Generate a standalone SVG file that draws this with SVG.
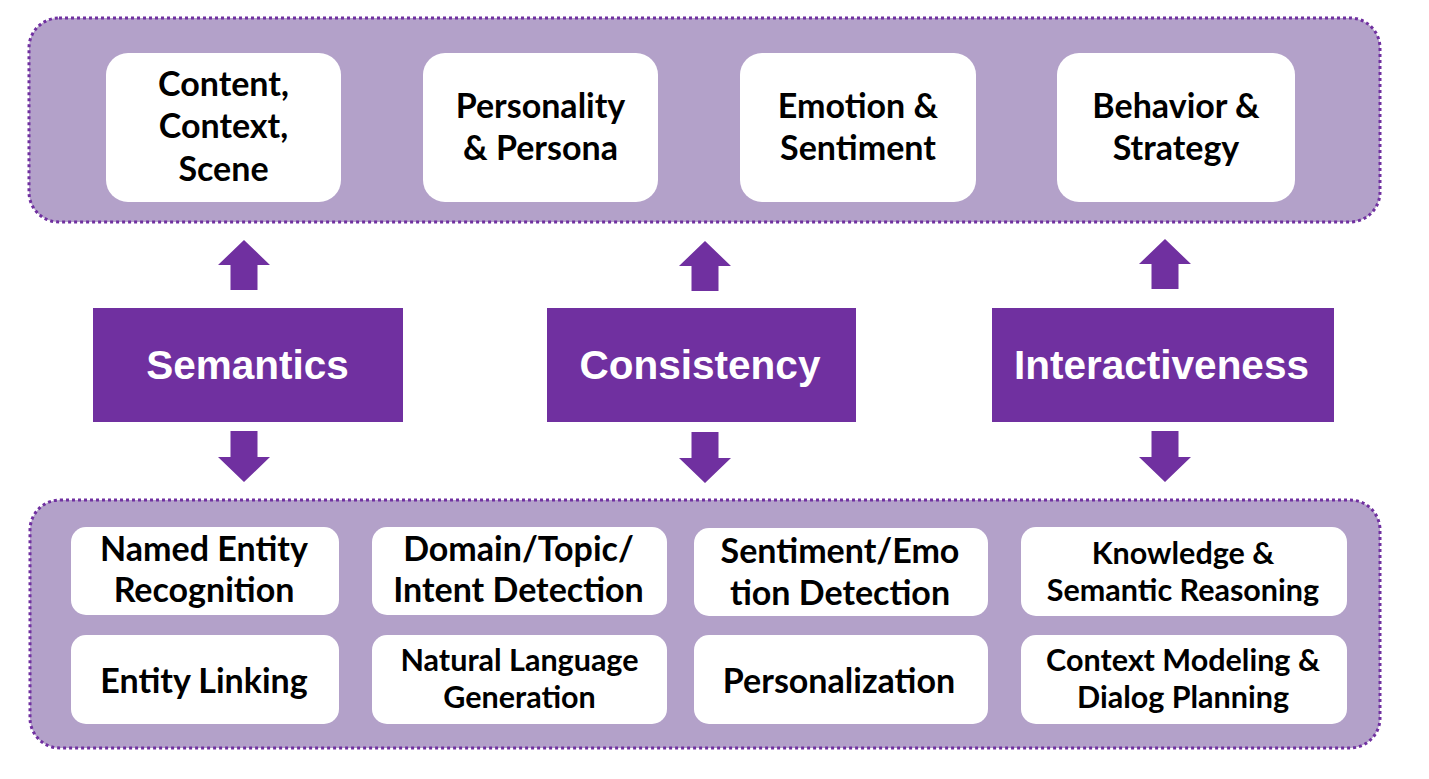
<svg xmlns="http://www.w3.org/2000/svg" width="1429" height="779" viewBox="0 0 1429 779">
<style>
.cont{fill:#b3a1c9;stroke:#7030a0;stroke-width:3;stroke-dasharray:3 3}
.wb{fill:#ffffff}
.pb{fill:#7030a0}
.t{font-family:Lato,"Open Sans",sans-serif;font-weight:bold;fill:#000;text-anchor:middle;font-size:34px}
.s{font-size:30.5px}
.m{font-family:"Liberation Sans",Arial,sans-serif;font-weight:bold;fill:#fff;text-anchor:middle;font-size:40.5px}
.arr{fill:#7030a0}
</style>
<rect width="1429" height="779" fill="#ffffff"/>
<g id="top-container">
<rect class="cont" x="29" y="18" width="1351" height="204" rx="30"/>
</g>
<g id="bottom-container">
<rect class="cont" x="30" y="500" width="1350" height="248" rx="30"/>
</g>
<g id="n-content">
<rect class="wb" x="106" y="53" width="235" height="149" rx="22"/>
<text class="t" x="223.5" y="96">Content,</text>
<text class="t" x="223.5" y="138">Context,</text>
<text class="t" x="223.5" y="181">Scene</text>
</g>
<g id="n-personality">
<rect class="wb" x="423" y="53" width="235" height="149" rx="22"/>
<text class="t" x="540.5" y="118">Personality</text>
<text class="t" x="540.5" y="160">&amp; Persona</text>
</g>
<g id="n-emotion">
<rect class="wb" x="740" y="53" width="236" height="149" rx="22"/>
<text class="t" x="858" y="118">Emotion &amp;</text>
<text class="t" x="858" y="160">Sentiment</text>
</g>
<g id="n-behavior">
<rect class="wb" x="1057" y="53" width="238" height="149" rx="22"/>
<text class="t" x="1176" y="118">Behavior &amp;</text>
<text class="t" x="1176" y="160">Strategy</text>
</g>
<g id="n-semantics">
<rect class="pb" x="93" y="308" width="310" height="114"/>
<text class="m" x="247.5" y="379">Semantics</text>
</g>
<g id="n-consistency">
<rect class="pb" x="547" y="308" width="309" height="114"/>
<text class="m" x="700" y="379">Consistency</text>
</g>
<g id="n-interactiveness">
<rect class="pb" x="992" y="308" width="342" height="114"/>
<text class="m" x="1161.5" y="379">Interactiveness</text>
</g>
<g id="connectors">
<path class="arr" d="M244 240 L270 265 L257.5 265 L257.5 290 L230.5 290 L230.5 265 L218 265 Z"/>
<path class="arr" d="M244 482 L270 457 L257.5 457 L257.5 431 L230.5 431 L230.5 457 L218 457 Z"/>
<path class="arr" d="M705 241 L731 266 L718.5 266 L718.5 291 L691.5 291 L691.5 266 L679 266 Z"/>
<path class="arr" d="M705 483 L731 458 L718.5 458 L718.5 432 L691.5 432 L691.5 458 L679 458 Z"/>
<path class="arr" d="M1165 239 L1191 264 L1178.5 264 L1178.5 289 L1151.5 289 L1151.5 264 L1139 264 Z"/>
<path class="arr" d="M1165 482 L1191 457 L1178.5 457 L1178.5 431 L1151.5 431 L1151.5 457 L1139 457 Z"/>
</g>
<g id="n-ner">
<rect class="wb" x="71" y="527" width="268" height="88" rx="15"/>
<text class="t" x="204" y="561">Named Entity</text>
<text class="t" x="204" y="602">Recognition</text>
</g>
<g id="n-el">
<rect class="wb" x="71" y="635" width="268" height="89" rx="15"/>
<text class="t" x="204" y="693">Entity Linking</text>
</g>
<g id="n-domain">
<rect class="wb" x="372" y="527" width="295" height="88" rx="15"/>
<text class="t" x="518.5" y="561">Domain/Topic/</text>
<text class="t" x="518.5" y="602">Intent Detection</text>
</g>
<g id="n-nlg">
<rect class="wb" x="372" y="635" width="295" height="89" rx="15"/>
<text class="t s" x="519.5" y="671">Natural Language</text>
<text class="t s" x="519.5" y="708">Generation</text>
</g>
<g id="n-sentiment">
<rect class="wb" x="694" y="528" width="294" height="88" rx="15"/>
<text class="t" x="840" y="563">Sentiment/Emo</text>
<text class="t" x="840" y="605">tion Detection</text>
</g>
<g id="n-personalization">
<rect class="wb" x="694" y="635" width="294" height="89" rx="15"/>
<text class="t" x="839" y="693">Personalization</text>
</g>
<g id="n-knowledge">
<rect class="wb" x="1021" y="527" width="326" height="89" rx="15"/>
<text class="t s" x="1183" y="564">Knowledge &amp;</text>
<text class="t s" x="1183" y="601">Semantic Reasoning</text>
</g>
<g id="n-context">
<rect class="wb" x="1021" y="635" width="326" height="89" rx="15"/>
<text class="t s" x="1183" y="671">Context Modeling &amp;</text>
<text class="t s" x="1183" y="708">Dialog Planning</text>
</g>
</svg>
